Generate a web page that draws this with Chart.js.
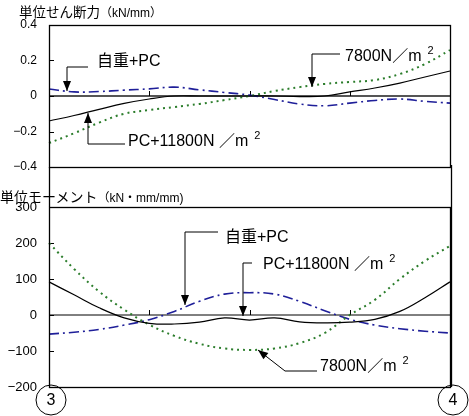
<!DOCTYPE html>
<html>
<head>
<meta charset="utf-8">
<script src="https://cdn.jsdelivr.net/npm/chart.js@4.4.1/dist/chart.umd.min.js"></script>
<style>
  body { margin: 0; background: #fff; width: 469px; height: 416px; position: relative; overflow: hidden;
         font-family: 'Liberation Sans', 'Noto Sans CJK JP', sans-serif; }
  canvas { position: absolute; left: 0; }
  #shear { top: 0; }
  #moment { top: 165px; }
  .ttl { position: absolute; white-space: nowrap; line-height: 1; color: #000; }
  .ttl small { font-size: 12px; }
</style>
</head>
<body>
<canvas id="shear" width="469" height="190"></canvas>
<canvas id="moment" width="469" height="251"></canvas>
<div class="ttl" style="left:19px;top:6px;font-size:13.5px">単位せん断力<small>（kN/mm）</small></div>
<div class="ttl" style="left:0;top:190px;font-size:14px">単位モーメント<small>（kN・mm/mm)</small></div>
<script>
// stations along the span 3 -> 4 (%)
const stations = [0, 6.25, 12.5, 18.75, 25, 31.25, 37.5, 43.75, 50, 56.25, 62.5, 68.75, 75, 81.25, 87.5, 93.75, 100];

// unit shear (kN/mm)
const shearPC11800 = [-0.141, -0.11, -0.075, -0.042, -0.017, 0, 0, 0, 0, 0, -0.003, 0, 0.023, 0.045, 0.073, 0.107, 0.141];
const shear7800    = [-0.265, -0.21, -0.15, -0.10, -0.079, -0.062, -0.045, -0.023, 0, 0.028, 0.05, 0.068, 0.079, 0.09, 0.124, 0.18, 0.259];
const shearSelfPC  = [0.039, 0.023, 0.025, 0.033, 0.04, 0.05, 0.035, 0.02, 0.005, -0.02, -0.045, -0.055, -0.04, -0.025, -0.017, -0.03, -0.04];
const shearTicks = [-0.4, 0.4, 0.2];

// unit moment (kN*mm/mm)
const momPC11800 = [92, 56, 20, -8, -23, -25, -20, -8, -14, -8, -19, -22, -20, -12, 10, 48, 92];
const mom7800    = [200, 128, 65, 15, -27, -58, -80, -93, -97, -93, -78, -50, 0, 42, 100, 150, 192];
const momSelfPC  = [-53, -48, -40, -28, -13, 10, 38, 58, 62, 58, 38, 12, -12, -28, -38, -45, -50];
const momTicks = [-200, 300, 100];

const latin = "'Liberation Sans', 'Noto Sans CJK JP', sans-serif";

function lineSets(solid, dotted, dashdot) {
  return [
    { label: 'PC+11800N/m2', data: solid, borderColor: '#000', borderWidth: 1.2 },
    { label: '7800N/m2', data: dotted, borderColor: '#2b7d2b', borderWidth: 2, borderDash: [2, 4] },
    { label: '自重+PC', data: dashdot, borderColor: '#1f1f99', borderWidth: 1.6, borderDash: [10, 4, 2, 4] }
  ].map(d => Object.assign(d, { pointRadius: 0, tension: 0.4, fill: false }));
}

// frame, zero line, inward ticks, callouts
function framePlugin(opts) {
  return {
    id: 'frame',
    beforeDatasetsDraw(chart) {
      const { ctx, chartArea: a, scales } = chart;
      const y = scales.y, x = scales.x;
      ctx.save();
      // zero line
      ctx.strokeStyle = opts.zeroColor; ctx.lineWidth = opts.zeroWidth;
      ctx.beginPath(); ctx.moveTo(a.left, y.getPixelForValue(0)); ctx.lineTo(a.right, y.getPixelForValue(0)); ctx.stroke();
      // quarter ticks on zero line
      ctx.strokeStyle = '#000'; ctx.lineWidth = 1;
      [4, 8, 12].forEach(i => {
        const px = Math.round(x.getPixelForValue(i)) + 0.5;
        ctx.beginPath(); ctx.moveTo(px, y.getPixelForValue(0)); ctx.lineTo(px, y.getPixelForValue(0) - 5); ctx.stroke();
      });
      // inward ticks on left axis
      y.ticks.forEach(t => {
        const py = Math.round(y.getPixelForValue(t.value)) + 0.5;
        ctx.beginPath(); ctx.moveTo(a.left, py); ctx.lineTo(a.left + 5, py); ctx.stroke();
      });
      ctx.restore();
    },
    afterDraw(chart) {
      const { ctx, chartArea: a } = chart;
      ctx.save();
      ctx.strokeStyle = '#000'; ctx.lineWidth = 1.3;
      ctx.strokeRect(Math.round(a.left) + 0.5, Math.round(a.top) + 0.5, Math.round(a.right - a.left), Math.round(a.bottom - a.top));
      if (opts.extend) {
        ctx.beginPath(); ctx.moveTo(Math.round(a.left) + 0.5, 2); ctx.lineTo(Math.round(a.left) + 0.5, a.top); ctx.stroke();
        ctx.beginPath(); ctx.moveTo(Math.round(a.right) + 1.5, 0); ctx.lineTo(Math.round(a.right) + 1.5, a.bottom); ctx.stroke();
      }
      // callouts
      ctx.lineWidth = 1; ctx.fillStyle = '#000'; ctx.textBaseline = 'middle';
      opts.notes.forEach(n => {
        const p = n.pts.map(q => [q[0], q[1] - opts.top]);
        ctx.strokeStyle = '#000';
        ctx.beginPath(); ctx.moveTo(p[0][0], p[0][1]);
        p.slice(1).forEach(q => ctx.lineTo(q[0], q[1]));
        ctx.stroke();
        const t = p[p.length - 1], f = p[p.length - 2];
        const ang = Math.atan2(t[1] - f[1], t[0] - f[0]);
        ctx.beginPath();
        ctx.moveTo(t[0], t[1]);
        ctx.lineTo(t[0] - 10 * Math.cos(ang) + 4 * Math.sin(ang), t[1] - 10 * Math.sin(ang) - 4 * Math.cos(ang));
        ctx.lineTo(t[0] - 10 * Math.cos(ang) - 4 * Math.sin(ang), t[1] - 10 * Math.sin(ang) + 4 * Math.cos(ang));
        ctx.closePath(); ctx.fill();
        ctx.font = '16px ' + latin; ctx.textAlign = 'left';
        ctx.fillText(n.text, n.x, n.y - opts.top);
        if (n.sup) {
          const w = ctx.measureText(n.text).width;
          ctx.font = '11px ' + latin;
          ctx.fillText(n.sup, n.x + w + 6, n.y - opts.top - 6);
        }
      });
      // support marks
      (opts.supports || []).forEach(s => {
        ctx.beginPath(); ctx.arc(s.x, s.y - opts.top, 15, 0, Math.PI * 2); ctx.stroke();
        ctx.font = '16px ' + latin; ctx.textAlign = 'center';
        ctx.fillText(s.label, s.x, s.y - opts.top + 1);
      });
      ctx.restore();
    }
  };
}

function makeOptions(ticks, pad, fontSize) {
  return {
    responsive: false, animation: false,
    layout: { padding: pad },
    plugins: { legend: { display: false }, tooltip: { enabled: false } },
    scales: {
      x: { display: false },
      y: {
        min: ticks[0], max: ticks[1],
        afterFit(s) { s.width = 49; },
        border: { display: false },
        grid: { display: false, drawTicks: false },
        ticks: {
          stepSize: ticks[2], padding: 12, color: '#000',
          font: { family: latin, size: fontSize },
          callback: v => String(Math.round(v * 100) / 100).replace('-', '−')
        }
      }
    }
  };
}

new Chart(document.getElementById('shear'), {
  type: 'line',
  data: { labels: stations, datasets: lineSets(shearPC11800, shear7800, shearSelfPC) },
  options: makeOptions(shearTicks, { left: 0, right: 19, top: 25, bottom: 23 }, 12),
  plugins: [framePlugin({
    top: 0, zeroColor: '#555', zeroWidth: 2, extend: false,
    notes: [
      { text: '自重+PC', x: 97, y: 62, pts: [[88, 67], [67, 67], [67, 91]] },
      { text: 'PC+11800N ／m', sup: '2', x: 128, y: 142, pts: [[125, 144], [88, 144], [88, 113]] },
      { text: '7800N／m', sup: '2', x: 345, y: 57, pts: [[340, 54], [312, 54], [312, 87]] }
    ]
  })]
});

new Chart(document.getElementById('moment'), {
  type: 'line',
  data: { labels: stations, datasets: lineSets(momPC11800, mom7800, momSelfPC) },
  options: makeOptions(momTicks, { left: 0, right: 19, top: 42, bottom: 29 }, 13),
  plugins: [framePlugin({
    top: 165, zeroColor: '#000', zeroWidth: 1, extend: true,
    notes: [
      { text: '自重+PC', x: 225, y: 238, pts: [[218, 232], [185, 232], [185, 305]] },
      { text: 'PC+11800N ／m', sup: '2', x: 263, y: 265, pts: [[252, 263], [243, 263], [243, 316]] },
      { text: '7800N／m', sup: '2', x: 320, y: 367, pts: [[317, 371], [285, 371], [258, 350]] }
    ],
    supports: [{ x: 51, y: 400, label: '3' }, { x: 453, y: 400, label: '4' }]
  })]
});
</script>
</body>
</html>
